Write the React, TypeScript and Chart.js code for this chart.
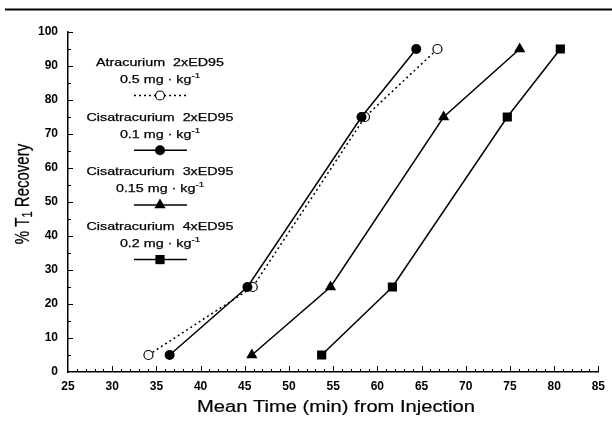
import { useEffect, useRef } from "react";
import { Chart, registerables } from "chart.js";

Chart.register(...registerables);

// ---- data ----
const recoveryLevels = [5, 25, 75, 95];
const atracuriumTimes = [34.1, 45.9, 58.6, 66.8];
const cisatracurium2Times = [36.5, 45.3, 58.2, 64.4];
const cisatracurium3Times = [45.8, 54.7, 67.5, 76.1];
const cisatracurium4Times = [53.7, 61.7, 74.7, 80.7];

const xMin = 25;
const xMax = 85;
const xStep = 5;
const yMin = 0;
const yMax = 100;
const yStep = 10;

const legendNames = [
  "Atracurium  2xED95",
  "Cisatracurium  2xED95",
  "Cisatracurium  3xED95",
  "Cisatracurium  4xED95",
];
const legendDoses = ["0.5 mg · kg", "0.1 mg · kg", "0.15 mg · kg", "0.2 mg · kg"];
const legendDoseSup = "-1";
const legendMarkers = ["openCircle", "circle", "triangle", "rect"];

const xTitle = "Mean Time (min) from Injection";
const yTitleA = "% T";
const yTitleSub = "1";
const yTitleB = " Recovery";

const FONT = "'Liberation Sans', Arial, Helvetica, sans-serif";

function pts(xs: number[], ys: number[]) {
  return xs.map((x, i) => ({ x, y: ys[i] }));
}

function heavyText(ctx: CanvasRenderingContext2D, t: string, x: number, y: number, w = 0.2) {
  ctx.fillText(t, x, y);
  ctx.lineWidth = w;
  ctx.strokeStyle = "#000";
  ctx.strokeText(t, x, y);
}

function drawMarker(ctx: CanvasRenderingContext2D, kind: string, x: number, y: number) {
  ctx.save();
  ctx.fillStyle = "#000";
  ctx.strokeStyle = "#000";
  ctx.setLineDash([]);
  ctx.beginPath();
  if (kind === "openCircle") {
    ctx.lineWidth = 1.2;
    ctx.fillStyle = "#fff";
    ctx.arc(x, y, 4.5, 0, Math.PI * 2);
    ctx.fill();
    ctx.stroke();
  } else if (kind === "circle") {
    ctx.arc(x, y, 5, 0, Math.PI * 2);
    ctx.fill();
  } else if (kind === "triangle") {
    const r = 6.5;
    ctx.moveTo(x, y - r);
    ctx.lineTo(x + r * 0.866, y + r / 2);
    ctx.lineTo(x - r * 0.866, y + r / 2);
    ctx.closePath();
    ctx.fill();
  } else {
    const s = 4.6;
    ctx.rect(x - s, y - s, 2 * s, 2 * s);
    ctx.fill();
  }
  ctx.restore();
}

const decorPlugin = {
  id: "decor",
  afterDraw(chart: any) {
    const ctx: CanvasRenderingContext2D = chart.ctx;
    const xs = chart.scales.x;
    const ys = chart.scales.y;
    const { left, bottom } = chart.chartArea;

    ctx.save();
    // top page rule
    ctx.fillStyle = "#000";
    ctx.fillRect(5, 8.5, 607, 2);

    // inward ticks
    ctx.strokeStyle = "#000";
    ctx.lineWidth = 1;
    ctx.beginPath();
    for (let v = xMin + 1; v <= xMax; v++) {
      const len = v % 5 === 0 ? 6 : 3;
      const px = Math.round(xs.getPixelForValue(v)) + 0.5;
      ctx.moveTo(px, bottom);
      ctx.lineTo(px, bottom - len);
    }
    for (let v = yMin + 5; v <= yMax; v += 5) {
      const len = v % 10 === 0 ? 5 : 3;
      const py = Math.round(ys.getPixelForValue(v)) + 0.5;
      ctx.moveTo(left, py);
      ctx.lineTo(left + len, py);
    }
    ctx.stroke();

    ctx.fillStyle = "#000";
    ctx.textBaseline = "middle";

    // x title (horizontally stretched like the scan)
    ctx.font = `16px ${FONT}`;
    const wx = ctx.measureText(xTitle).width;
    const sx = 278 / wx;
    ctx.save();
    ctx.translate(336, 408);
    ctx.scale(sx, 1);
    ctx.textAlign = "center";
    heavyText(ctx, xTitle, 0, 0, 0.2);
    ctx.restore();

    // y title rotated
    ctx.save();
    ctx.translate(24, 194);
    ctx.rotate(-Math.PI / 2);
    ctx.scale(1, 1.3);
    ctx.textAlign = "left";
    ctx.font = `15px ${FONT}`;
    const wa = ctx.measureText(yTitleA).width;
    const wb = ctx.measureText(yTitleB).width;
    ctx.font = `11px ${FONT}`;
    const ws = ctx.measureText(yTitleSub).width;
    const total = wa + ws + wb;
    let cx = -total / 2;
    ctx.font = `15px ${FONT}`;
    heavyText(ctx, yTitleA, cx, 0, 0.2);
    cx += wa;
    ctx.font = `11px ${FONT}`;
    heavyText(ctx, yTitleSub, cx, 3.5, 0.2);
    cx += ws;
    ctx.font = `15px ${FONT}`;
    heavyText(ctx, yTitleB, cx, 0, 0.2);
    ctx.restore();

    // legend
    const lx = 160;
    const stretch = 1.3;
    legendNames.forEach((name, i) => {
      const baseY = 63 + i * 54.7;
      ctx.save();
      ctx.font = `11px ${FONT}`;
      const wn = ctx.measureText(name).width;
      ctx.translate(lx - (wn * stretch) / 2, baseY);
      ctx.scale(stretch, 1);
      ctx.textAlign = "left";
      heavyText(ctx, name, 0, 0, 0.25);
      ctx.restore();

      ctx.save();
      ctx.font = `11px ${FONT}`;
      const wd = ctx.measureText(legendDoses[i]).width;
      ctx.font = `7.5px ${FONT}`;
      const wsup = ctx.measureText(legendDoseSup).width;
      const tw = (wd + wsup) * stretch;
      ctx.translate(lx - tw / 2, baseY + 17);
      ctx.scale(stretch, 1);
      ctx.textAlign = "left";
      ctx.font = `11px ${FONT}`;
      heavyText(ctx, legendDoses[i], 0, 0, 0.25);
      ctx.font = `7.5px ${FONT}`;
      heavyText(ctx, legendDoseSup, wd, -4, 0.2);
      ctx.restore();

      const my = baseY + 32.5;
      ctx.save();
      ctx.strokeStyle = "#000";
      ctx.lineWidth = 1.5;
      if (i === 0) ctx.setLineDash([2, 3]);
      ctx.beginPath();
      ctx.moveTo(134, my);
      ctx.lineTo(187, my);
      ctx.stroke();
      ctx.restore();
      drawMarker(ctx, legendMarkers[i], lx, my);
    });

    ctx.restore();
  },
};

export default function App() {
  const ref = useRef<HTMLCanvasElement>(null);

  useEffect(() => {
    const canvas = ref.current;
    if (!canvas) return;
    const tickFont = { family: FONT, size: 12, weight: "bold" as const };
    const chart = new Chart(canvas, {
      type: "line",
      data: {
        datasets: [
          {
            label: "Cisatracurium 2xED95",
            data: pts(cisatracurium2Times, recoveryLevels),
            borderColor: "#000",
            borderWidth: 1.5,
            backgroundColor: "#000",
            pointStyle: "circle",
            pointRadius: 5,
            pointBorderWidth: 0,
            pointBackgroundColor: "#000",
            tension: 0,
          },
          {
            label: "Atracurium 2xED95",
            data: pts(atracuriumTimes, recoveryLevels),
            borderColor: "#000",
            borderWidth: 1.5,
            borderDash: [2, 3],
            pointStyle: "circle",
            pointRadius: 4.5,
            pointBorderWidth: 1.2,
            pointBorderColor: "#000",
            pointBackgroundColor: "#fff",
            tension: 0,
          },
          {
            label: "Cisatracurium 3xED95",
            data: pts(cisatracurium3Times, recoveryLevels),
            borderColor: "#000",
            borderWidth: 1.5,
            pointStyle: "triangle",
            pointRadius: 6.5,
            pointBorderWidth: 0,
            pointBackgroundColor: "#000",
            tension: 0,
          },
          {
            label: "Cisatracurium 4xED95",
            data: pts(cisatracurium4Times, recoveryLevels),
            borderColor: "#000",
            borderWidth: 1.5,
            pointStyle: "rect",
            pointRadius: 6.5,
            pointBorderWidth: 0,
            pointBackgroundColor: "#000",
            tension: 0,
          },
        ],
      },
      options: {
        responsive: false,
        animation: false,
        events: [],
        layout: { padding: { top: 32, right: 12, left: 0, bottom: 0 } },
        plugins: {
          legend: { display: false },
          tooltip: { enabled: false },
          title: { display: false },
        },
        scales: {
          x: {
            type: "linear",
            min: xMin,
            max: xMax,
            ticks: {
              stepSize: xStep,
              font: tickFont,
              color: "#000",
              padding: 7,
              maxRotation: 0,
              autoSkip: false,
            },
            grid: { display: false, drawTicks: false },
            border: { display: true, color: "#000", width: 1.5 },
            afterFit(scale: any) {
              scale.height = 51;
            },
          },
          y: {
            type: "linear",
            min: yMin,
            max: yMax,
            ticks: {
              stepSize: yStep,
              font: tickFont,
              color: "#000",
              padding: 10,
              autoSkip: false,
            },
            grid: { display: false, drawTicks: false },
            border: { display: true, color: "#000", width: 1.5 },
            afterFit(scale: any) {
              scale.width = 68;
            },
          },
        },
      },
      plugins: [decorPlugin],
    });
    return () => chart.destroy();
  }, []);

  return (
    <div style={{ position: "absolute", left: 0, top: 0, width: 612, height: 423, background: "#fff" }}>
      <canvas ref={ref} width={612} height={423} style={{ display: "block", width: 612, height: 423 }} />
    </div>
  );
}
